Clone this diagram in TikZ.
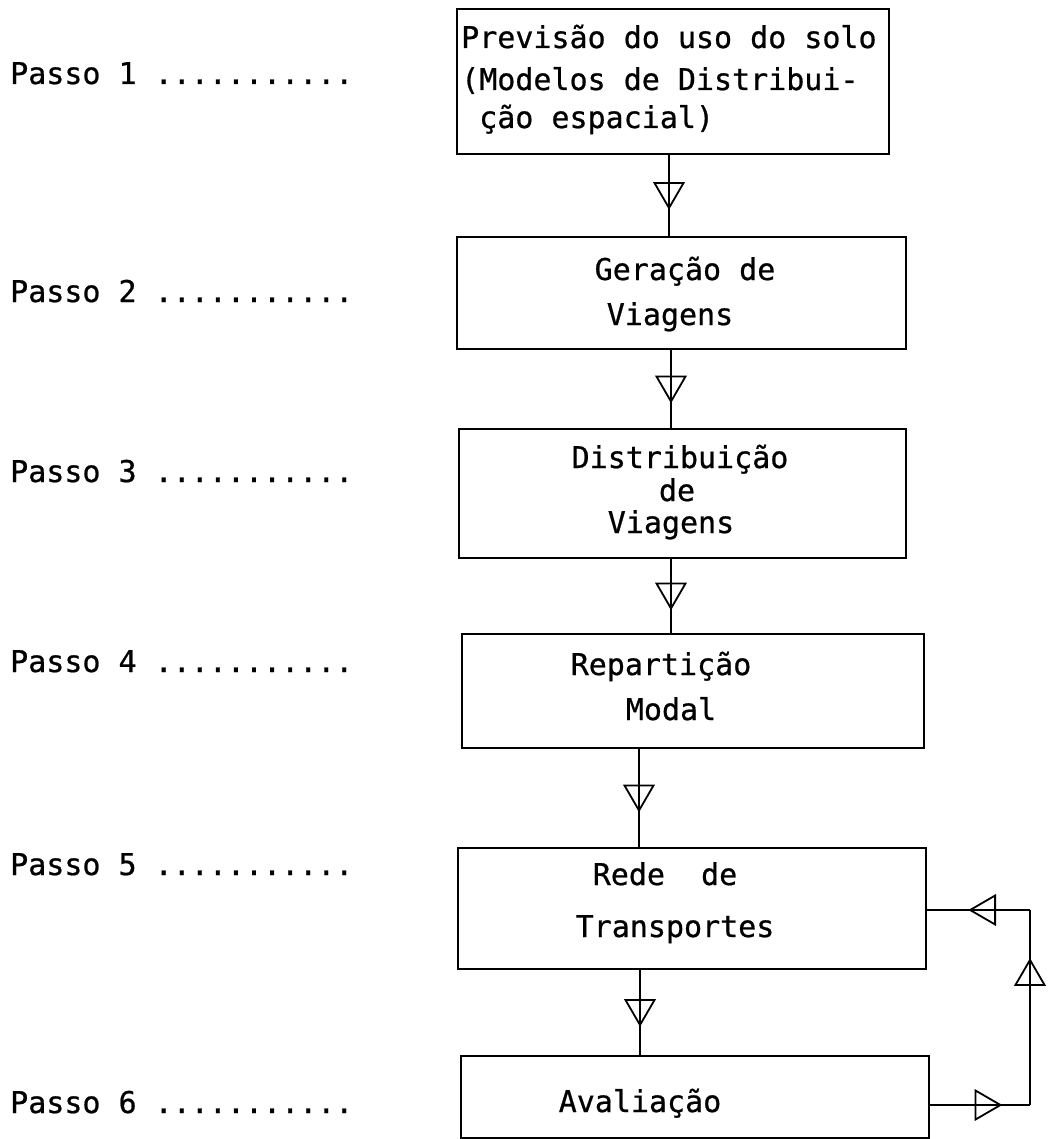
\documentclass[tikz,border=0pt]{standalone}
\usepackage{fontspec}
\setmainfont{DejaVu Sans Mono}[RawFeature={embolden=0.7}]
\usetikzlibrary{decorations.markings}
\begin{document}
\begin{tikzpicture}[x=1pt,y=-1pt,
  every node/.style={font=\fontsize{30}{36}\selectfont, inner sep=0pt},
  box/.style={draw, line width=2pt, anchor=north west},
  flow/.style={line width=1.8pt},
  tri/.style={postaction={decorate}, decoration={markings,
     mark=at position #1 with {\draw[line width=1.8pt, line join=miter] (-12.5pt,-14.5pt) -- (12.5pt,0pt) -- (-12.5pt,14.5pt) -- cycle;}}},
  lbl/.style={anchor=base west},
  txt/.style={anchor=base}
]
\useasboundingbox (0,0) rectangle (1053,1139);
\fill[white] (0,0) rectangle (1053,1139);

% boxes
\node[box, minimum width=432pt, minimum height=145pt] (b1) at (456,8) {};
\node[box, minimum width=449pt, minimum height=112pt] (b2) at (456,236) {};
\node[box, minimum width=447pt, minimum height=129pt] (b3) at (458,428) {};
\node[box, minimum width=462pt, minimum height=114pt] (b4) at (461,633) {};
\node[box, minimum width=468pt, minimum height=121pt] (b5) at (457,847) {};
\node[box, minimum width=468pt, minimum height=82pt] (b6) at (460,1055) {};

% box texts
\node[lbl] (t11) at (461,48) {Previsão do uso do solo};
\node[lbl] (t12) at (461,90) {(Modelos de Distribui-};
\node[lbl] (t13) at (479,128) {ção espacial)};
\node[txt] (t21) at (685,280) {Geração de};
\node[txt] (t22) at (670,325) {Viagens};
\node[txt] (t31) at (680,468) {Distribuição};
\node[txt] (t32) at (677,501) {de};
\node[txt] (t33) at (671,533) {Viagens};
\node[txt] (t41) at (661,675) {Repartição};
\node[txt] (t42) at (671,720) {Modal};
\node[txt] (t51) at (665,885) {Rede\ \ de};
\node[txt] (t52) at (675,937) {Transportes};
\node[txt] (t61) at (640,1112) {Avaliação};

% step labels
\node[lbl] (p1) at (10,84) {Passo 1 ...........};
\node[lbl] (p2) at (10,302) {Passo 2 ...........};
\node[lbl] (p3) at (10,482) {Passo 3 ...........};
\node[lbl] (p4) at (10,672) {Passo 4 ...........};
\node[lbl] (p5) at (10,875) {Passo 5 ...........};
\node[lbl] (p6) at (10,1113) {Passo 6 ...........};

% connector columns
\coordinate (x1) at (669,0);
\coordinate (x2) at (671,0);
\coordinate (x3) at (671,0);
\coordinate (x4) at (639,0);
\coordinate (x5) at (640,0);
\coordinate (c1) at (1030,1105);
\coordinate (c2) at (1030,910);

\draw[flow, tri=0.5] (b1.south -| x1) -- (b2.north -| x1);
\draw[flow, tri=0.5] (b2.south -| x2) -- (b3.north -| x2);
\draw[flow, tri=0.5] (b3.south -| x3) -- (b4.north -| x3);
\draw[flow, tri=0.5] (b4.south -| x4) -- (b5.north -| x4);
\draw[flow, tri=0.5] (b5.south -| x5) -- (b6.north -| x5);

\draw[flow, tri=0.58] (b6.east |- c1) -- (c1);
\draw[flow, tri=0.68] (c1) -- (c2);
\draw[flow, tri=0.46] (c2) -- (b5.east |- c2);
\end{tikzpicture}
\end{document}
